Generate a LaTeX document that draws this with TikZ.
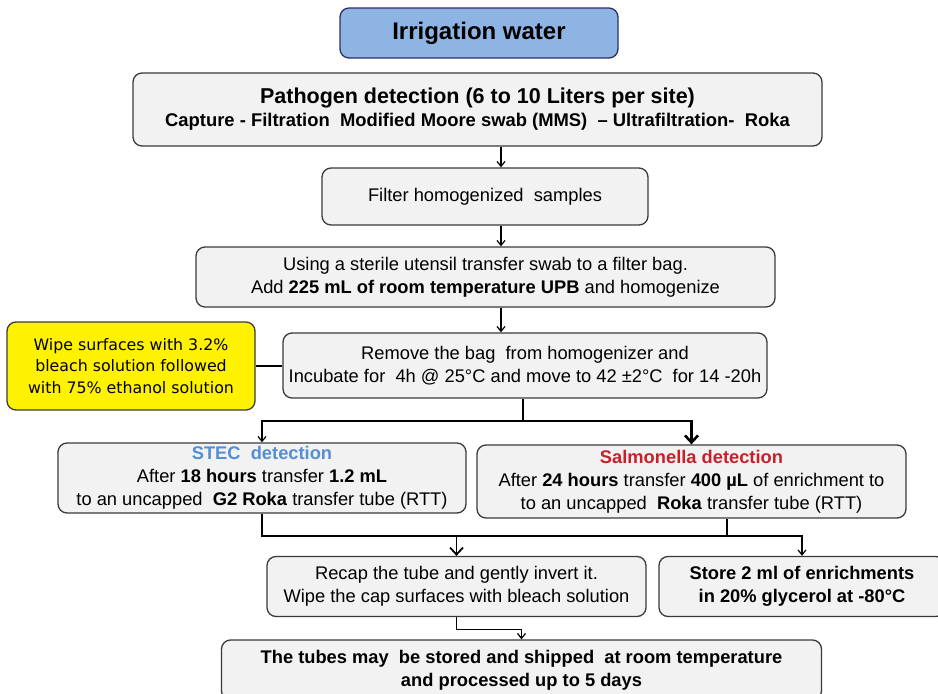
\documentclass[tikz,border=0pt]{standalone}
\usepackage{fontspec}
\setmainfont{Liberation Sans}
\newfontfamily\wipefont{DejaVu Sans}
\usetikzlibrary{arrows.meta}
\definecolor{boxgray}{HTML}{F2F2F2}
\definecolor{edgegray}{HTML}{3A3A3A}
\definecolor{waterblue}{HTML}{8DB4E2}
\definecolor{stecblue}{HTML}{558ED5}
\definecolor{salmred}{HTML}{C8202B}
\tikzset{
  box/.style={draw=edgegray, fill=boxgray, line width=1.3pt, rounded corners=9pt,
    align=center, inner sep=0pt, font=\fontsize{18.3}{23}\selectfont},
  waterbox/.style={box, fill=waterblue, draw=edgegray!80!blue,
    font=\fontsize{24}{28}\selectfont\bfseries},
  wipebox/.style={box, fill=yellow, font=\wipefont\fontsize{15.8}{21.5}\selectfont},
  link/.style={line width=1.2pt, -{Straight Barb[length=5pt,width=8pt]}},
  heavylink/.style={line width=2.6pt, -{Straight Barb[length=7pt,width=13pt]}}
}
\begin{document}
\begin{tikzpicture}[x=1pt,y=-1pt]
      \useasboundingbox (0,0) rectangle (938,694);
      \draw
        (479,33) node[waterbox, minimum width=278pt, minimum height=50pt] (irr){Irrigation water}
        (477.5,109.5) node[box, minimum width=689pt, minimum height=73pt] (path){%
          {\fontsize{21.5}{24}\selectfont\bfseries Pathogen detection (6 to 10 Liters per site)}\\
          \fontsize{18.4}{24}\selectfont\bfseries Capture - Filtration~ Modified Moore swab (MMS)~ -- Ultrafiltration-~ Roka}
        (485,196.5) node[box, minimum width=326pt, minimum height=57pt] (filt){Filter homogenized~ samples}
        (485.5,277) node[box, minimum width=579pt, minimum height=60pt] (swab){%
          Using a sterile utensil transfer swab to a filter bag.\\
          Add \textbf{225 mL of room temperature UPB} and homogenize}
        (525,365.5) node[box, minimum width=484pt, minimum height=65pt] (incub){%
          Remove the bag~ from homogenizer and\\
          Incubate for~ 4h @ 25°C and move to 42 ±2°C~ for 14 -20h}
        (131,366) node[wipebox, minimum width=248pt, minimum height=88pt] (wipe){%
          Wipe surfaces with 3.2\%\\ bleach solution followed\\ with 75\% ethanol solution}
        (262,478) node[box, minimum width=408pt, minimum height=70pt] (stec){%
          \textcolor{stecblue}{\bfseries STEC~ detection}\\
          After \textbf{18 hours} transfer \textbf{1.2 mL}\\
          to an uncapped~ \textbf{G2 Roka} transfer tube (RTT)}
        (691.5,481.5) node[box, minimum width=429pt, minimum height=73pt] (salm){%
          \textcolor{salmred}{\bfseries Salmonella detection}\\
          After \textbf{24 hours} transfer \textbf{400 µL} of enrichment to\\
          to an uncapped~ \textbf{Roka} transfer tube (RTT)}
        (456.5,586.5) node[box, minimum width=379pt, minimum height=60pt] (recap){%
          Recap the tube and gently invert it.\\
          Wipe the cap surfaces with bleach solution}
        (802,586.5) node[box, minimum width=286pt, minimum height=60pt] (store){%
          \bfseries Store 2 ml of enrichments\\ \bfseries in 20\% glycerol at -80°C}
        (521.5,670) node[box, minimum width=600pt, minimum height=60pt] (tubes){%
          \bfseries The tubes may~ be stored and shipped~ at room temperature\\
          \bfseries and processed up to 5 days};
      \coordinate (spine) at (501,0);
      \coordinate (split) at (523,421);
      \coordinate (merge) at (0,536);
      \coordinate (salmout) at (727,0);
      \begin{scope}[link]
        \draw (path.south -| spine) to (filt.north -| spine);
        \draw (filt.south -| spine) to (swab.north -| spine);
        \draw (swab.south -| spine) to (incub.north -| spine);
        \draw (split) -| (stec.north);
        \draw (stec.south) |- (merge -| store.north) -- (store.north);
        \draw (recap.south) -- ++(0,12) -| (tubes.north);
      \end{scope}
      \begin{scope}[-, line width=1.2pt]
        \draw (wipe.east) to (wipe.east -| incub.west);
        \draw (salm.south -| salmout) to (merge -| salmout);
      \end{scope}
      \draw[line width=2.6pt] (incub.south -| split) to (split);
      \draw[heavylink] (split) -| (salm.north);
      \draw[heavylink, line width=1.8pt] (merge -| recap.north) to (recap.north);
    \end{tikzpicture}
\end{document}
